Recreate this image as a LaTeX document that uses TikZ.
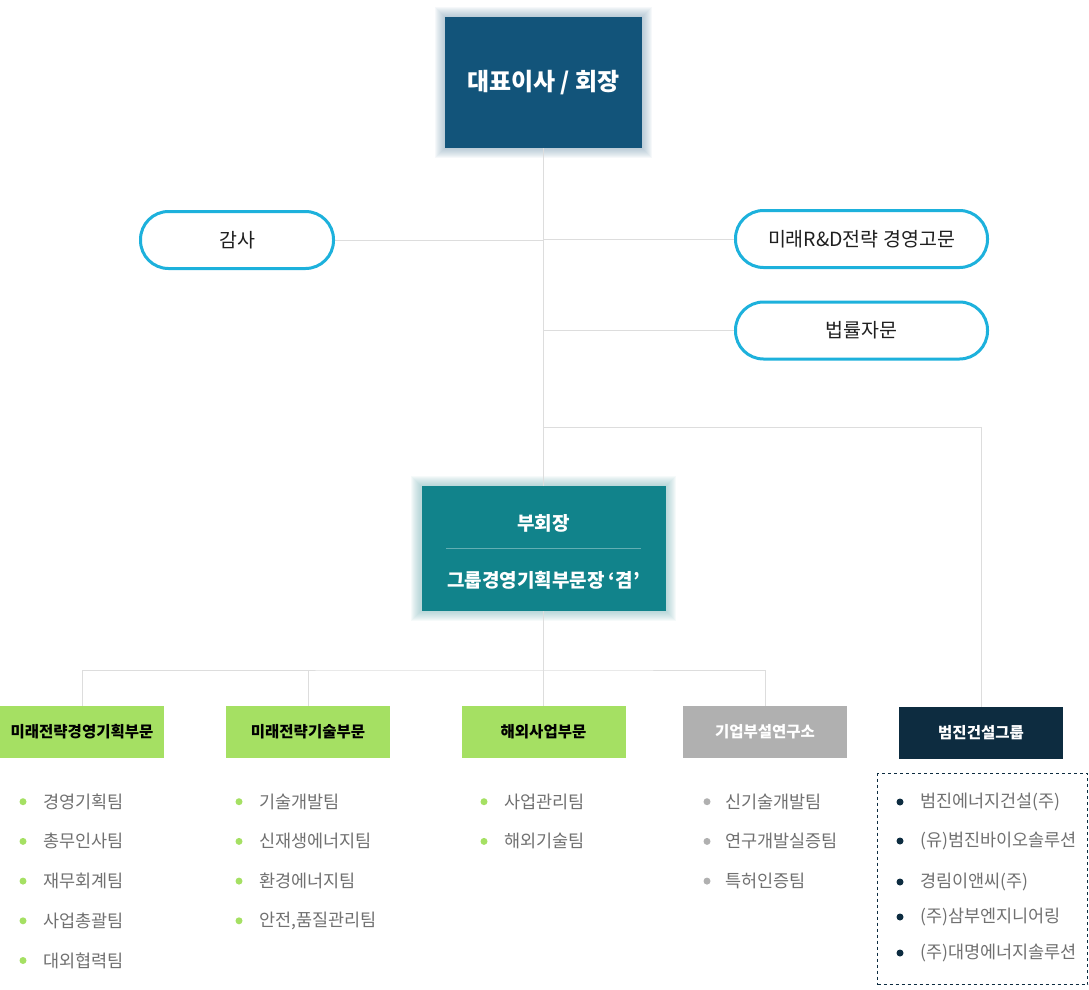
\documentclass[tikz,border=0pt]{standalone}
\usepackage{fontspec}
\setmainfont{Noto Sans CJK KR}
\usetikzlibrary{backgrounds}

\definecolor{ceoblue}{HTML}{12547A}
\definecolor{ceoglow}{HTML}{7E9FB4}
\definecolor{viceteal}{HTML}{11838B}
\definecolor{viceglow}{HTML}{7DB5B9}
\definecolor{vicesep}{HTML}{62AEB3}
\definecolor{pillcyan}{HTML}{1DB1DC}
\definecolor{linegrey}{HTML}{DDDDDD}
\definecolor{divgreen}{HTML}{A5E063}
\definecolor{divgrey}{HTML}{B0B0B0}
\definecolor{divnavy}{HTML}{0D2C40}
\definecolor{listgrey}{HTML}{707070}

\tikzset{
    link/.style={draw=linegrey, line width=1pt},
    pill/.style={draw=pillcyan, line width=3pt, fill=white, rounded corners=28pt,
        minimum height=57pt, inner sep=0pt, text=black!88, font=\fontsize{19.5}{22}\selectfont},
    topbox/.style={fill=#1, inner sep=0pt, text=white, font=\bfseries\fontsize{24}{28}\selectfont},
    vicetext/.style={text=white, inner sep=0pt, font=\bfseries\fontsize{19}{22}\selectfont},
    divbox/.style={fill=#1, minimum width=164pt, minimum height=52pt, inner sep=0pt,
        font=\bfseries\fontsize{15.5}{18}\selectfont},
    item/.style={anchor=west, inner sep=0pt, text=listgrey, font=\fontsize{17.5}{20}\selectfont},
    listbox/.style={draw=divnavy, dashed, line width=1pt, minimum width=210pt, minimum height=211pt}
}

\begin{document}
\begin{tikzpicture}[x=1pt, y=-1pt]
    \useasboundingbox (0,0) rectangle (1089,990);
    \node[topbox=ceoblue, minimum width=197pt, minimum height=131pt] (ceo) at (543.5,82.5) {대표이사 / 회장};
    \node[topbox=viceteal, minimum width=244pt, minimum height=125pt] (vice) at (543.5,548.5) {};
    \node[vicetext] (vicetitle) at (543.5,523) {부회장};
    \node[vicetext] (vicesub) at (543.5,580) {그룹경영기획부문장 ‘겸’};
    \draw[vicesep, line width=1pt] ([xshift=25pt]vice.west) -- ([xshift=-25pt]vice.east);
    \begin{scope}[on background layer]
        \foreach \g in {1,...,10} {
            \fill[ceoglow, opacity=0.07] ([shift={(-\g pt,-\g pt)}]ceo.south west) rectangle ([shift={(\g pt,\g pt)}]ceo.north east);
            \fill[viceglow, opacity=0.07] ([shift={(-\g pt,-\g pt)}]vice.south west) rectangle ([shift={(\g pt,\g pt)}]vice.north east);
        }
    \end{scope}

    \node[pill, minimum width=193pt] (audit) at (237,240) {감사};
    \node[pill, minimum width=252pt] (advisor) at (861.5,239) {미래R\&D전략 경영고문};
    \node[pill, minimum width=252pt] (legal) at (861.5,330.5) {법률자문};

    \node[divbox=divgreen] (div1) at (82,732) {미래전략경영기획부문};
    \node[divbox=divgreen] (div2) at (308,732) {미래전략기술부문};
    \node[divbox=divgreen] (div3) at (543.5,732) {해외사업부문};
    \node[divbox=divgrey, text=white] (div4) at (765,732) {기업부설연구소};
    \node[divbox=divnavy, text=white] (div5) at (981,733) {범진건설그룹};
    \node[listbox] (grouplist) at (982.5,879) {};

    \coordinate (gsplit) at (543.5,427);
    \coordinate (dsplit) at (543.5,670);
    \begin{scope}[on background layer]
        \draw[link] (ceo.south) -- (vice.north);
        \draw[link] (audit.east) -- (audit.east -| ceo.south);
        \draw[link] (advisor.west) -- (advisor.west -| ceo.south);
        \draw[link] (legal.west) -- (legal.west -| ceo.south);
        \draw[link] (gsplit) -| (div5.north);
        \draw[link] (vice.south) -- (div3.north);
        \draw[link] (div1.north) |- (dsplit) -| (div4.north);
        \draw[link] (div2.north) -- (div2.north |- dsplit);
    \end{scope}

    \foreach \t [count=\i] in {경영기획팀,총무인사팀,재무회계팀,사업총괄팀,대외협력팀} {
        \node[item] (plan\i) at (43,762+39.7*\i) {\t};
        \fill[divgreen] ([xshift=-20pt]plan\i.west) circle (3.5pt);
    }
    \foreach \t [count=\i] in {기술개발팀,신재생에너지팀,환경에너지팀,{안전,품질관리팀}} {
        \node[item] (tech\i) at (259,762+39.7*\i) {\t};
        \fill[divgreen] ([xshift=-20pt]tech\i.west) circle (3.5pt);
    }
    \foreach \t [count=\i] in {사업관리팀,해외기술팀} {
        \node[item] (global\i) at (504,762+39.7*\i) {\t};
        \fill[divgreen] ([xshift=-20pt]global\i.west) circle (3.5pt);
    }
    \foreach \t [count=\i] in {신기술개발팀,연구개발실증팀,특허인증팀} {
        \node[item] (lab\i) at (725,762+39.7*\i) {\t};
        \fill[divgrey] ([xshift=-18pt]lab\i.west) circle (3.5pt);
    }
    \foreach \y/\t [count=\i] in {802/범진에너지건설(주),841/(유)범진바이오솔루션,882/경림이앤씨(주),917/(주)삼부엔지니어링,953/(주)대명에너지솔루션} {
        \node[item] (group\i) at (920,\y) {\t};
        \fill[divnavy] ([xshift=-20pt]group\i.west) circle (3.5pt);
    }
\end{tikzpicture}
\end{document}
